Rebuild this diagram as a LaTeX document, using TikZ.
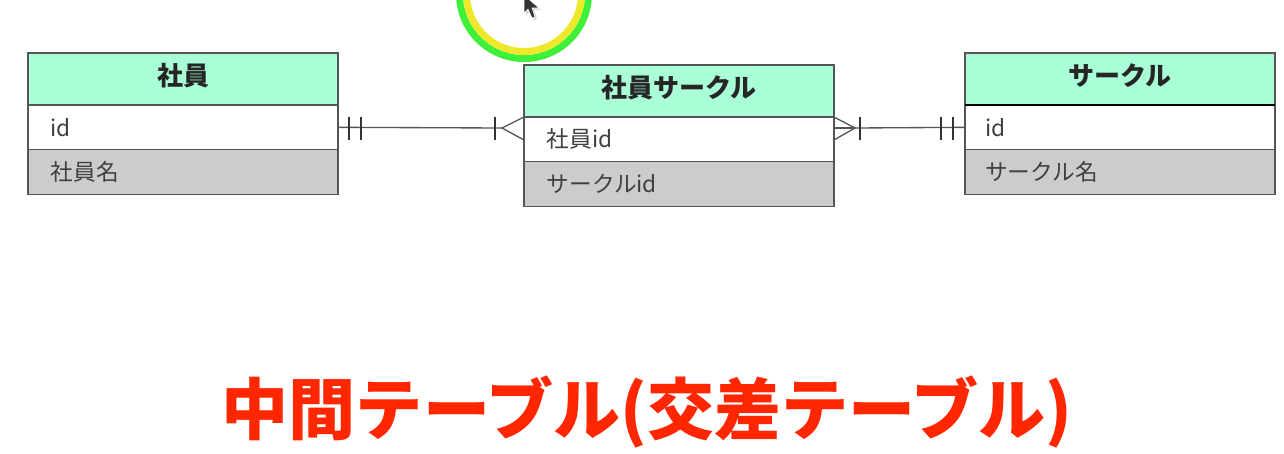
\documentclass[tikz,border=0pt]{standalone}
\usepackage{fontspec}
\setmainfont{Noto Sans CJK JP}
\newfontfamily\captionfont{Noto Sans CJK JP Black}
\usetikzlibrary{positioning}
\definecolor{ErMint}{HTML}{A9FFD6}
\definecolor{ErGray}{HTML}{CCCCCC}
\definecolor{ErLine}{HTML}{555555}
\definecolor{ErText}{HTML}{404040}
\definecolor{TitleRed}{HTML}{FF2600}
\definecolor{RingGreen}{HTML}{3FF03A}
\definecolor{RingYellow}{HTML}{EDE82A}

\begin{document}
\begin{tikzpicture}[x=0.75pt,y=-0.75pt,node distance=0pt,
    every node/.style={inner sep=0pt,outer sep=0pt},
    headbox/.style={draw=ErLine,line width=0.8pt,fill=ErMint,minimum width=232.5pt,minimum height=39pt,text depth=6.5pt,font=\bfseries\fontsize{19.5}{20}\selectfont,text=black!85},
    idbox/.style={draw=ErLine,line width=0.8pt,fill=white,minimum width=232.5pt,minimum height=33.5pt,text width=198.5pt,inner xsep=17pt,align=left,font=\fontsize{17}{18}\selectfont,text=ErText},
    namebox/.style={idbox,fill=ErGray},
    erline/.style={ErLine,line width=1pt}]
    \useasboundingbox (0,0) rectangle (1284,453);
    \clip (0,0) rectangle (1284,453);
    % cursor ring
    \draw[RingGreen,line width=5.25pt] (524,-6) circle (64.5);
    \draw[RingYellow,line width=5.25pt] (524,-6) circle (57.5);
    \fill[black!15] (526,-3) -- (526,15) -- (530,11) -- (534,20) -- (537,19) -- (534,10) -- (541,10) -- cycle;
    \fill[black!80,draw=white,line width=0.4pt] (524,-5) -- (524,13) -- (528,9) -- (532,18) -- (535,17) -- (532,8) -- (539,8) -- cycle;
    % tables
    \node[headbox,anchor=north west] (emp) at (28,53) {社員};
    \node[idbox,below=of emp] (empid) {id};
    \node[namebox,below=of empid] (empname) {社員名};
    \node[headbox,anchor=north west] (link) at (524,65) {社員サークル};
    \node[idbox,below=of link] (linkemp) {社員id};
    \node[namebox,below=of linkemp] (linkcircle) {サークルid};
    \node[headbox,anchor=north west] (circle) at (965,53) {サークル};
    \node[idbox,below=of circle,text width=202.5pt,inner xsep=15pt] (circleid) {id};
    \node[namebox,below=of circleid,text width=202.5pt,inner xsep=15pt] (circlename) {サークル名};
    \draw[black,line width=1.3pt] (circle.south west) -- (circle.south east);
    % connectors
    \coordinate (apexl) at (502,128);
    \coordinate (apexr) at (855,128);
    \draw[erline] (empid.east) -- (apexl);
    \draw[erline] (apexr) -- (circleid.west);
    \foreach \x in {349,361,495,860,941,953}{\draw[black!80,line width=0.8pt] (\x,116.5) -- (\x,140);}
    \draw[erline] (524,117) -- (apexl) -- (524,140);
    \draw[erline] (834,117) -- (apexr) -- (834,140);
    \draw[erline] (834,128) -- (apexr);
    % caption
    \node[font=\captionfont\fontsize{50.3}{54}\selectfont,text=TitleRed] (caption) at (647,412) {中間テーブル(交差テーブル)};
\end{tikzpicture}
\end{document}
